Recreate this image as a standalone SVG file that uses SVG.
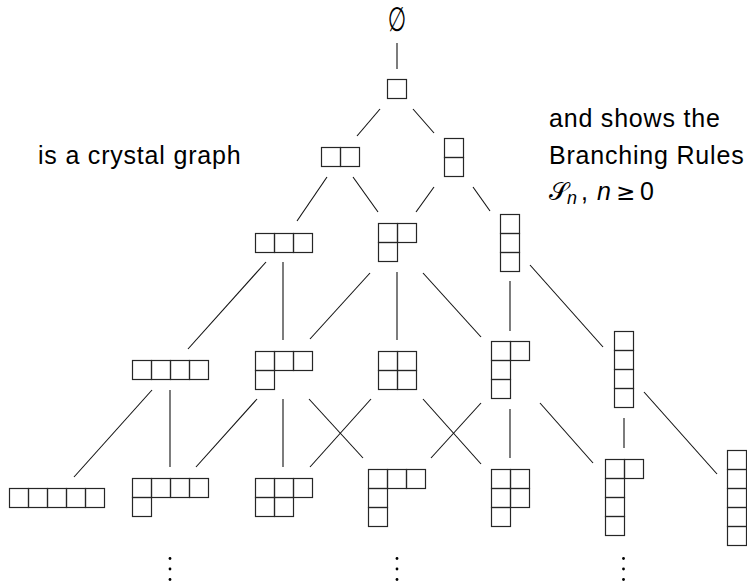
<svg xmlns="http://www.w3.org/2000/svg" width="747" height="581" viewBox="0 0 747 581">
  <style>
    .c { fill: none; stroke: #262626; stroke-width: 1.2; }
    .e line { stroke: #111; stroke-width: 1.1; }
    .t { font-family: "Liberation Sans", Arial, sans-serif; font-size: 25px; fill: #000; letter-spacing: 0.8px; }
    .m { font-family: "Liberation Sans", Arial, sans-serif; font-size: 25px; fill: #000; }
    .dot { fill: #000; }
  </style>
  <defs>
    <rect id="cell" class="c" width="19" height="19"/>
  </defs>
  <rect width="747" height="581" fill="#fff"/>

  <!-- connectors -->
  <g id="edges" class="e">
    <line x1="397" y1="43" x2="397" y2="69"/>
    <line x1="380" y1="109" x2="357" y2="136"/>
    <line x1="413" y1="109" x2="434" y2="133"/>
    <line x1="327" y1="177" x2="297" y2="221"/>
    <line x1="353" y1="177" x2="378" y2="212"/>
    <line x1="434" y1="187" x2="416" y2="212"/>
    <line x1="473" y1="187" x2="490" y2="211"/>
    <line x1="266" y1="262" x2="188" y2="349"/>
    <line x1="283" y1="262" x2="283" y2="340"/>
    <line x1="370" y1="273" x2="310" y2="339"/>
    <line x1="397" y1="272" x2="397" y2="340"/>
    <line x1="423" y1="273" x2="481" y2="337"/>
    <line x1="510" y1="281" x2="510" y2="331"/>
    <line x1="530" y1="265" x2="603" y2="347"/>
    <line x1="152" y1="390" x2="74" y2="477"/>
    <line x1="170" y1="390" x2="170" y2="467"/>
    <line x1="257" y1="399" x2="196" y2="467"/>
    <line x1="283" y1="399" x2="283" y2="467"/>
    <line x1="309" y1="399" x2="363" y2="458"/>
    <line x1="371" y1="399" x2="310" y2="467"/>
    <line x1="423" y1="399" x2="481" y2="464"/>
    <line x1="481" y1="403" x2="431" y2="458"/>
    <line x1="510" y1="409" x2="510" y2="458"/>
    <line x1="540" y1="403" x2="593" y2="463"/>
    <line x1="624" y1="418" x2="624" y2="448"/>
    <line x1="644" y1="392" x2="717" y2="474"/>
  </g>

  <!-- empty partition -->
  <g id="n-empty">
    <text x="397" y="31" text-anchor="middle" font-family="DejaVu Sans, sans-serif" font-size="34" transform="translate(397 0) scale(0.62 1) translate(-397 0)">∅</text>
  </g>

  <!-- size 1 -->
  <g id="n-1"><use href="#cell" x="387.5" y="79.5"/></g>

  <!-- size 2 -->
  <g id="n-2">
    <use href="#cell" x="321.5" y="147.5"/><use href="#cell" x="340.5" y="147.5"/>
  </g>
  <g id="n-11">
    <use href="#cell" x="444.5" y="138.5"/><use href="#cell" x="444.5" y="157.5"/>
  </g>

  <!-- size 3 -->
  <g id="n-3">
    <use href="#cell" x="255.5" y="233.5"/><use href="#cell" x="274.5" y="233.5"/><use href="#cell" x="293.5" y="233.5"/>
  </g>
  <g id="n-21">
    <use href="#cell" x="378.5" y="223.5"/><use href="#cell" x="397.5" y="223.5"/>
    <use href="#cell" x="378.5" y="242.5"/>
  </g>
  <g id="n-111">
    <use href="#cell" x="500.5" y="214.5"/><use href="#cell" x="500.5" y="233.5"/><use href="#cell" x="500.5" y="252.5"/>
  </g>

  <!-- size 4 -->
  <g id="n-4">
    <use href="#cell" x="132.5" y="360.5"/><use href="#cell" x="151.5" y="360.5"/><use href="#cell" x="170.5" y="360.5"/><use href="#cell" x="189.5" y="360.5"/>
  </g>
  <g id="n-31">
    <use href="#cell" x="255.5" y="351.5"/><use href="#cell" x="274.5" y="351.5"/><use href="#cell" x="293.5" y="351.5"/>
    <use href="#cell" x="255.5" y="370.5"/>
  </g>
  <g id="n-22">
    <use href="#cell" x="378.5" y="351.5"/><use href="#cell" x="397.5" y="351.5"/>
    <use href="#cell" x="378.5" y="370.5"/><use href="#cell" x="397.5" y="370.5"/>
  </g>
  <g id="n-211">
    <use href="#cell" x="491.5" y="341.5"/><use href="#cell" x="510.5" y="341.5"/>
    <use href="#cell" x="491.5" y="360.5"/><use href="#cell" x="491.5" y="379.5"/>
  </g>
  <g id="n-1111">
    <use href="#cell" x="614.5" y="331.5"/><use href="#cell" x="614.5" y="350.5"/><use href="#cell" x="614.5" y="369.5"/><use href="#cell" x="614.5" y="388.5"/>
  </g>

  <!-- size 5 -->
  <g id="n-5">
    <use href="#cell" x="9.5" y="488.5"/><use href="#cell" x="28.5" y="488.5"/><use href="#cell" x="47.5" y="488.5"/><use href="#cell" x="66.5" y="488.5"/><use href="#cell" x="85.5" y="488.5"/>
  </g>
  <g id="n-41">
    <use href="#cell" x="132.5" y="478.5"/><use href="#cell" x="151.5" y="478.5"/><use href="#cell" x="170.5" y="478.5"/><use href="#cell" x="189.5" y="478.5"/>
    <use href="#cell" x="132.5" y="497.5"/>
  </g>
  <g id="n-32">
    <use href="#cell" x="255.5" y="478.5"/><use href="#cell" x="274.5" y="478.5"/><use href="#cell" x="293.5" y="478.5"/>
    <use href="#cell" x="255.5" y="497.5"/><use href="#cell" x="274.5" y="497.5"/>
  </g>
  <g id="n-311">
    <use href="#cell" x="368.5" y="469.5"/><use href="#cell" x="387.5" y="469.5"/><use href="#cell" x="406.5" y="469.5"/>
    <use href="#cell" x="368.5" y="488.5"/><use href="#cell" x="368.5" y="507.5"/>
  </g>
  <g id="n-221">
    <use href="#cell" x="491.5" y="469.5"/><use href="#cell" x="510.5" y="469.5"/>
    <use href="#cell" x="491.5" y="488.5"/><use href="#cell" x="510.5" y="488.5"/>
    <use href="#cell" x="491.5" y="507.5"/>
  </g>
  <g id="n-2111">
    <use href="#cell" x="605.5" y="459.5"/><use href="#cell" x="624.5" y="459.5"/>
    <use href="#cell" x="605.5" y="478.5"/><use href="#cell" x="605.5" y="497.5"/><use href="#cell" x="605.5" y="516.5"/>
  </g>
  <g id="n-11111">
    <use href="#cell" x="727.5" y="450.5"/><use href="#cell" x="727.5" y="469.5"/><use href="#cell" x="727.5" y="488.5"/><use href="#cell" x="727.5" y="507.5"/><use href="#cell" x="727.5" y="526.5"/>
  </g>

  <!-- continuation dots -->
  <g id="vdots">
    <circle class="dot" cx="170" cy="558.5" r="1.4"/><circle class="dot" cx="170" cy="569" r="1.4"/><circle class="dot" cx="170" cy="579.5" r="1.4"/>
    <circle class="dot" cx="397" cy="558.5" r="1.4"/><circle class="dot" cx="397" cy="569" r="1.4"/><circle class="dot" cx="397" cy="579.5" r="1.4"/>
    <circle class="dot" cx="623.5" cy="558.5" r="1.4"/><circle class="dot" cx="623.5" cy="569" r="1.4"/><circle class="dot" cx="623.5" cy="579.5" r="1.4"/>
  </g>

  <!-- captions -->
  <text class="t" x="38" y="164">is a crystal graph</text>
  <text class="t" x="549" y="127">and shows the</text>
  <text class="t" x="549" y="164">Branching Rules</text>
  <g id="math" class="m">
    <text x="549" y="200" font-family="DejaVu Sans, sans-serif" font-size="25">𝒮</text>
    <text x="567" y="204" font-style="italic" font-size="18">n</text>
    <text x="581" y="200">,</text>
    <text x="597" y="200" font-style="italic">n</text>
    <text x="616" y="200" font-family="DejaVu Sans, sans-serif" font-size="23">≥</text>
    <text x="640" y="200">0</text>
  </g>
</svg>
